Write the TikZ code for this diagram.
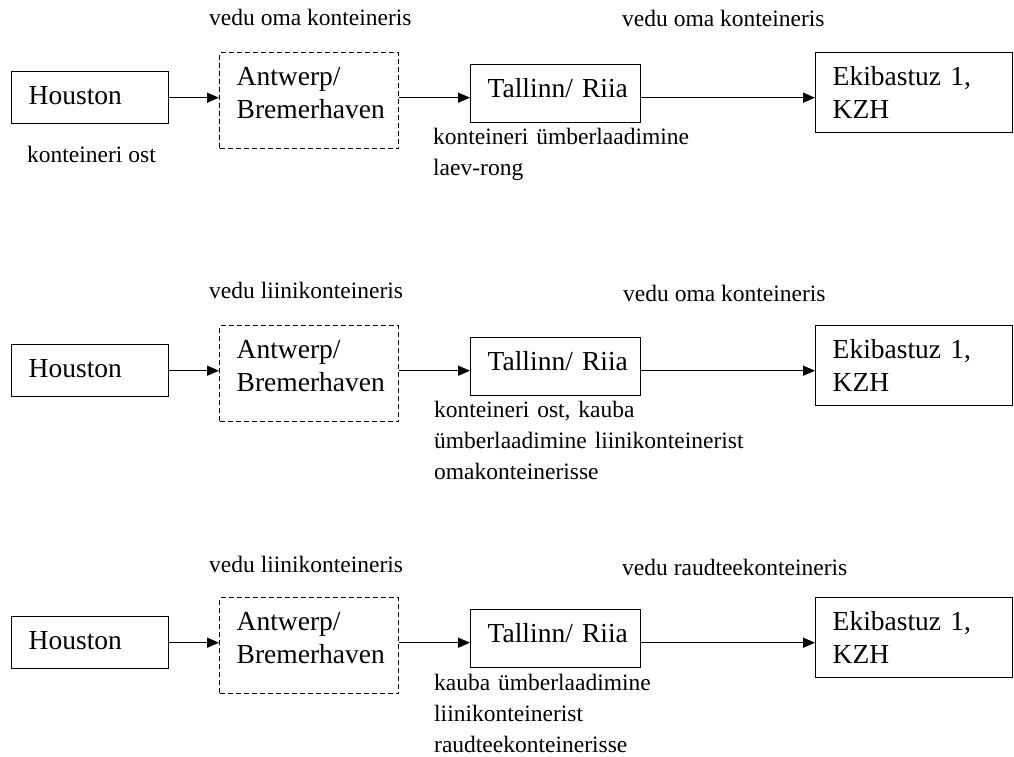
\documentclass[tikz,border=0pt]{standalone}
\usepackage{fontspec}
\setmainfont{Liberation Serif}
\usetikzlibrary{arrows.meta}
\begin{document}
\begin{tikzpicture}[x=1pt,y=-1pt,
  box/.style={draw, line width=1.4pt, anchor=north west, inner xsep=17pt, inner ysep=0pt,
    align=left, font=\fontsize{27.5}{33}\selectfont, text height=33pt},
  hou/.style={box, text width=123pt, text depth=19pt},
  ant/.style={box, dash pattern=on 5pt off 3pt, text width=145pt, text depth=63pt},
  tal/.style={box, text width=136pt, text depth=25pt},
  eki/.style={box, text width=163pt, text depth=47pt},
  lbl/.style={anchor=base west, inner sep=0pt, font=\fontsize{23.5}{31}\selectfont},
  mlbl/.style={lbl, align=left, text width=360pt},
  arr/.style={line width=1.5pt, -{Triangle[length=12pt,width=10pt]}}]
\useasboundingbox (0,0) rectangle (1014,757);

% Row 1
\node[hou] (h1) at (11,71) {Houston};
\node[ant] (a1) at (219,52) {Antwerp/\\Bremerhaven};
\node[tal] (t1) at (470,64) {\mbox{Tallinn/ Riia}};
\node[eki] (e1) at (815,52) {Ekibastuz 1,\\KZH};
\node[lbl] (l11) at (209,26) {vedu oma konteineris};
\node[lbl] (l12) at (622,27) {vedu oma konteineris};
\node[lbl] (l13) at (27,162) {konteineri ost};
\node[mlbl] (l14) at (433,144) {konteineri ümberlaadimine\\laev-rong};
\draw[arr] (h1.east) -- (a1.west |- h1.east);
\draw[arr] (a1.east |- h1.east) -- (t1.west |- h1.east);
\draw[arr] (t1.east |- h1.east) -- (e1.west |- h1.east);

% Row 2
\node[hou] (h2) at (11,344) {Houston};
\node[ant] (a2) at (219,325) {Antwerp/\\Bremerhaven};
\node[tal] (t2) at (470,337) {\mbox{Tallinn/ Riia}};
\node[eki] (e2) at (815,325) {Ekibastuz 1,\\KZH};
\node[lbl] (l21) at (209,298) {vedu liinikonteineris};
\node[lbl] (l22) at (623,301) {vedu oma konteineris};
\node[mlbl] (l23) at (434,417) {konteineri ost, kauba\\ümberlaadimine liinikonteinerist\\omakonteinerisse};
\draw[arr] (h2.east) -- (a2.west |- h2.east);
\draw[arr] (a2.east |- h2.east) -- (t2.west |- h2.east);
\draw[arr] (t2.east |- h2.east) -- (e2.west |- h2.east);

% Row 3
\node[hou] (h3) at (11,616) {Houston};
\node[ant] (a3) at (219,597) {Antwerp/\\Bremerhaven};
\node[tal] (t3) at (470,609) {\mbox{Tallinn/ Riia}};
\node[eki] (e3) at (815,597) {Ekibastuz 1,\\KZH};
\node[lbl] (l31) at (209,572) {vedu liinikonteineris};
\node[lbl] (l32) at (622,575) {vedu raudteekonteineris};
\node[mlbl] (l33) at (434,690) {kauba ümberlaadimine\\liinikonteinerist\\raudteekonteinerisse};
\draw[arr] (h3.east) -- (a3.west |- h3.east);
\draw[arr] (a3.east |- h3.east) -- (t3.west |- h3.east);
\draw[arr] (t3.east |- h3.east) -- (e3.west |- h3.east);
\end{tikzpicture}
\end{document}
